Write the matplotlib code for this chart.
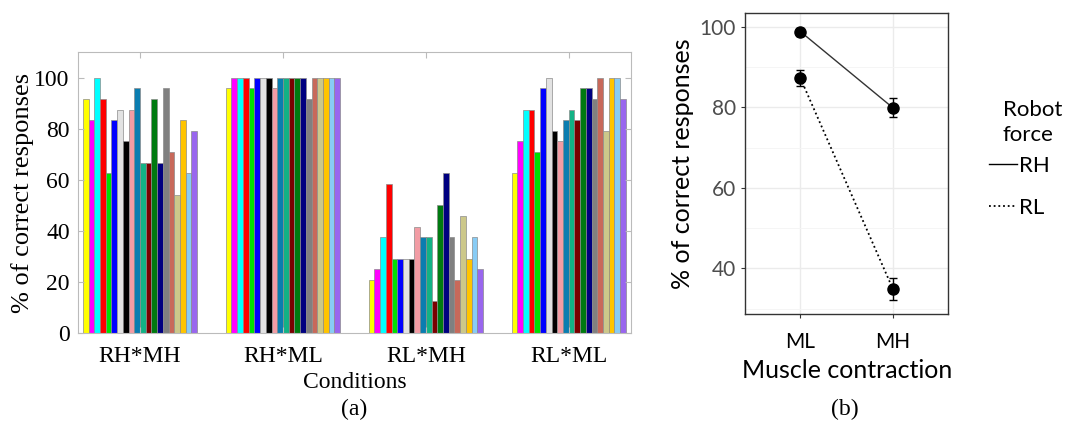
import numpy as np
import matplotlib.pyplot as plt

# per-subject scores (%) for each condition, 20 subjects
conditions = ["RH*MH", "RH*ML", "RL*MH", "RL*ML"]
rh_mh = [91.67, 83.33, 100, 91.67, 62.5, 83.33, 87.5, 75, 87.5, 95.83,
         66.67, 66.67, 91.67, 66.67, 95.83, 70.83, 54.17, 83.33, 62.5, 79.17]
rh_ml = [95.83, 100, 100, 100, 95.83, 100, 100, 100, 95.83, 100,
         100, 100, 100, 100, 91.67, 100, 100, 100, 100, 100]
rl_mh = [20.83, 25, 37.5, 58.33, 29.17, 29.17, 29.17, 29.17, 41.67, 37.5,
         37.5, 12.5, 50, 62.5, 37.5, 20.83, 45.83, 29.17, 37.5, 25]
rl_ml = [62.5, 75, 87.5, 87.5, 70.83, 95.83, 100, 79.17, 75, 83.33,
         87.5, 83.33, 95.83, 95.83, 91.67, 100, 79.17, 100, 100, 91.67]
subject_colors = ["#FFFF00", "#FF00FF", "#00FFFF", "#FF0000", "#00E000",
                  "#0000FF", "#E2E2E2", "#000000", "#F29CA4", "#0A7DB0",
                  "#12B285", "#7A0000", "#007A10", "#000080", "#808080",
                  "#C8695A", "#CCC88A", "#FFC400", "#88CCF5", "#9966EE"]

# group means with error bars
muscle = ["ML", "MH"]
rh_mean = [98.8, 79.9]
rh_err = [1.0, 2.3]
rl_mean = [87.2, 34.9]
rl_err = [2.0, 2.8]

fig = plt.figure(figsize=(10.69, 4.24), dpi=100)

# ---- (a) grouped bars ----
ax1 = fig.add_axes([0.073, 0.2146, 0.517, 0.6625])
scores = np.array([rh_mh, rh_ml, rl_mh, rl_ml])
n = scores.shape[1]
w = 0.8 / n
x = np.arange(1, len(conditions) + 1)
for i in range(n):
    ax1.bar(x + (i - (n - 1) / 2) * w, scores[:, i], width=w,
            color=subject_colors[i], edgecolor="#8C8C8C", linewidth=0.5)
ax1.set_xlim(0.566, 4.434)
ax1.set_ylim(0, 110)
ax1.set_yticks(range(0, 101, 20))
ax1.set_xticks(x)
ax1.set_xticklabels(conditions)
serif = "Liberation Serif"
for lab in ax1.get_xticklabels() + ax1.get_yticklabels():
    lab.set_fontfamily(serif)
    lab.set_fontsize(17)
ax1.tick_params(direction="in", length=4, color="#BBBBBB", top=True, right=True,
                pad=6)
ax1.tick_params(axis="x", pad=9)
for s in ax1.spines.values():
    s.set_color("#BBBBBB")
    s.set_linewidth(0.8)
ax1.set_ylabel("% of correct responses", family=serif, fontsize=19, labelpad=0)
ax1.set_xlabel("Conditions", family=serif, fontsize=17, labelpad=4)
fig.text(0.331, 0.022, "(a)", family=serif, fontsize=17, ha="center")

# ---- (b) interaction plot ----
sans = "Lato"
ax2 = fig.add_axes([0.697, 0.259, 0.190, 0.711])
xm = np.arange(1, len(muscle) + 1)
ax2.set_axisbelow(True)
ax2.errorbar(xm, rh_mean, yerr=rh_err, color="#333333", ecolor="black",
             linestyle="-", linewidth=1.0, marker="o", markersize=8,
             markerfacecolor="black", markeredgecolor="black", capsize=3,
             elinewidth=1.0, label="RH")
ax2.errorbar(xm, rl_mean, yerr=rl_err, color="black", ecolor="black",
             linestyle=(0, (1, 1.6)), linewidth=1.3, marker="o", markersize=8,
             markerfacecolor="black", markeredgecolor="black", capsize=3,
             elinewidth=1.0, label="RL")
ax2.set_xlim(0.4, 2.6)
ax2.set_ylim(28.6, 103.5)
ax2.set_yticks([40, 60, 80, 100])
ax2.set_yticks([30, 50, 70, 90], minor=True)
ax2.set_xticks(xm)
ax2.set_xticklabels(muscle)
ax2.grid(which="major", color="#EBEBEB", linewidth=1.0)
ax2.grid(which="minor", axis="y", color="#F4F4F4", linewidth=0.6)
ax2.tick_params(which="major", direction="out", length=3, color="#333333",
                labelcolor="#4D4D4D", labelsize=15)
ax2.tick_params(which="minor", length=0)
ax2.tick_params(axis="x", labelcolor="black", labelsize=15, pad=10)
for lab in ax2.get_xticklabels() + ax2.get_yticklabels():
    lab.set_fontfamily(sans)
for s in ax2.spines.values():
    s.set_color("#333333")
    s.set_linewidth(1.0)
ax2.set_ylabel("% of correct responses", family=sans, fontsize=18, labelpad=4)
ax2.set_xlabel("Muscle contraction", family=sans, fontsize=18, labelpad=5)

# legend: title drawn as its own text block, entries below it
fig.text(0.938, 0.712, "Robot\nforce", family=sans, fontsize=16,
         ha="left", va="center", ma="left", linespacing=1.3)
h, l = ax2.get_legend_handles_labels()
handles = [plt.Line2D([], [], color="black", linewidth=1.0, linestyle="-"),
           plt.Line2D([], [], color="black", linewidth=1.3, linestyle=(0, (1, 1.6)))]
fig.legend(handles, l, loc="upper left", bbox_to_anchor=(0.906, 0.68),
           frameon=False, handlelength=1.3, handletextpad=0.05,
           labelspacing=1.0, prop={"family": sans, "size": 16})
fig.text(0.79, 0.022, "(b)", family=serif, fontsize=17, ha="center")

fig.savefig("out.png", dpi=100)
